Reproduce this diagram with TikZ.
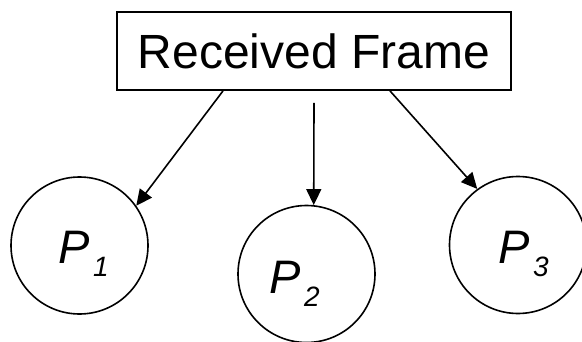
\documentclass[tikz,border=0pt]{standalone}
\usepackage{fontspec}
\setmainfont{Liberation Sans}
\usetikzlibrary{arrows.meta}

% process name with a dropped index
\newcommand{\procname}[1]{\textit{P}\kern3pt\raisebox{-13.5pt}{\fontsize{28}{28}\selectfont\textit{#1}}}

\begin{document}
\begin{tikzpicture}[x=1pt,y=1pt,->,>={Triangle[length=16pt,width=15pt]},line width=1.6pt,
  frame node/.style={rectangle,draw,line width=1.8pt,minimum width=394pt,minimum height=78pt,
    inner sep=0pt,font=\fontsize{48}{56}\selectfont},
  proc node/.style={circle,draw,minimum size=137pt,inner sep=0pt},
  proc label/.style={anchor=base west,inner sep=0pt,font=\fontsize{47}{56}\selectfont}]

  \clip (0,0) rectangle (582,341);

  \node[frame node] (frame) at (314,290) {Received Frame};
  \node[proc node] (p1) at (79.5,95.5) {};
  \node[proc node] (p2) at (306.5,67) {};
  \node[proc node] (p3) at (518,96) {};

  \node[proc label] (l1) at (58,78) {\procname{1}};
  \node[proc label] (l2) at (269,48) {\procname{2}};
  \node[proc label] (l3) at (498,78) {\procname{3}};

  \path
    ([xshift=-91pt]frame.south) edge (p1.35)
    ([yshift=-12pt]frame.south) edge (p2.84)
    ([xshift=76pt]frame.south) edge (p3.126);
\end{tikzpicture}
\end{document}
